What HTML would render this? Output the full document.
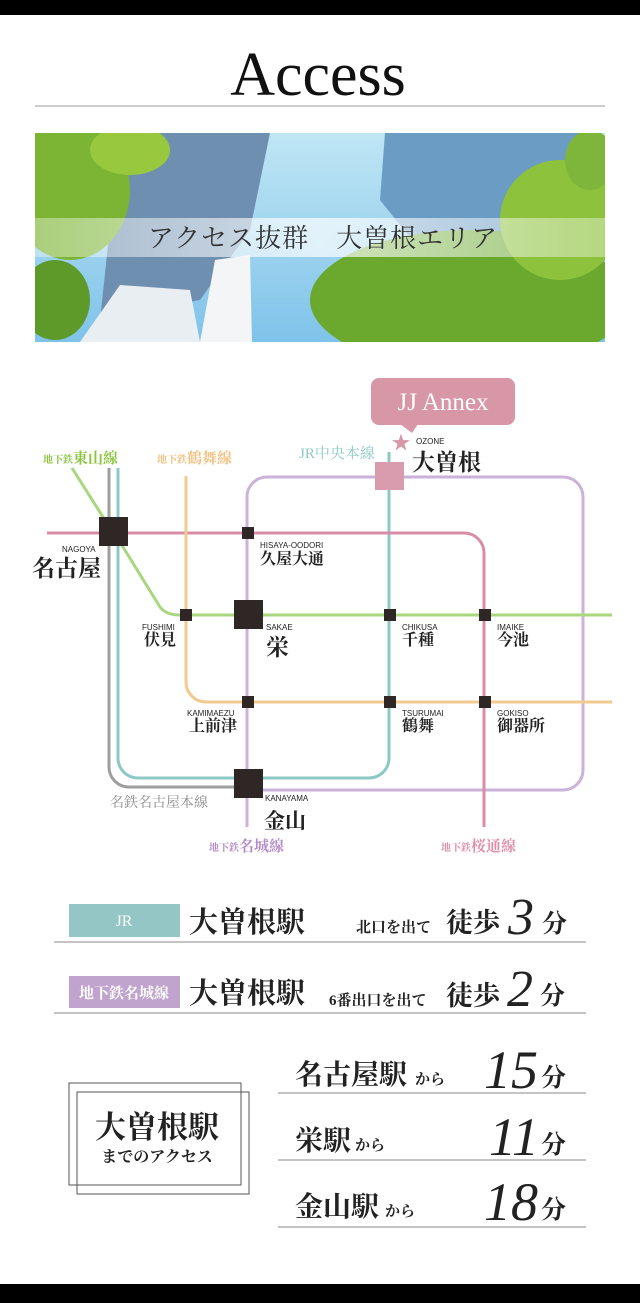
<!DOCTYPE html>
<html><head><meta charset="utf-8"><style>
html,body{margin:0;padding:0;background:#fff;}
svg{display:block;}
text{font-family:"Liberation Serif","Noto Serif CJK SC",serif;}
.s{font-family:"Liberation Sans","Noto Sans CJK JP",sans-serif;}
</style></head><body>
<svg width="640" height="1303" viewBox="0 0 640 1303" xmlns="http://www.w3.org/2000/svg">
<defs>
<linearGradient id="sky" x1="0" y1="0" x2="0" y2="1">
<stop offset="0" stop-color="#bfe6f4"/><stop offset="0.5" stop-color="#9fd4ef"/><stop offset="1" stop-color="#7fc3ea"/>
</linearGradient>
<linearGradient id="bandg" x1="0" y1="0" x2="1" y2="0">
<stop offset="0" stop-color="#fff" stop-opacity="0.35"/><stop offset="0.5" stop-color="#fff" stop-opacity="0.7"/><stop offset="1" stop-color="#fff" stop-opacity="0.35"/>
</linearGradient>
<clipPath id="pc"><rect x="35" y="133" width="570" height="209"/></clipPath>
</defs>
<rect x="0" y="0" width="640" height="15" fill="#000"/>
<rect x="0" y="1284" width="640" height="19" fill="#000"/>
<text x="318" y="95" font-size="62" text-anchor="middle" fill="#111">Access</text>
<line x1="35" y1="106" x2="605" y2="106" stroke="#bbb" stroke-width="1.5"/>

<!-- photo -->
<g clip-path="url(#pc)">
<rect x="35" y="133" width="570" height="209" fill="url(#sky)"/>
<polygon points="120,133 270,133 250,230 200,300 100,320" fill="#6f8fb0"/>
<polygon points="385,133 600,133 600,240 420,250 380,200" fill="#6b9cc4"/>
<polygon points="80,342 120,285 190,290 200,342" fill="#e9eef3"/>
<polygon points="200,342 215,260 250,255 252,342" fill="#f3f5f7"/>
<ellipse cx="70" cy="190" rx="60" ry="70" fill="#7cb534"/>
<ellipse cx="130" cy="150" rx="40" ry="25" fill="#97c83d"/>
<ellipse cx="55" cy="300" rx="35" ry="40" fill="#5d9a2a"/>
<ellipse cx="470" cy="300" rx="160" ry="70" fill="#6aa82e"/>
<ellipse cx="560" cy="220" rx="60" ry="60" fill="#8dc23c"/>
<ellipse cx="590" cy="160" rx="25" ry="30" fill="#7db63a"/>
</g>
<rect x="35" y="218" width="570" height="39" fill="url(#bandg)"/>
<text x="323" y="247" font-size="26" text-anchor="middle" fill="#333" letter-spacing="1">アクセス抜群　大曽根エリア</text>

<!-- map lines -->
<g fill="none" stroke-width="3">
<path d="M109,468 V767 a20,20 0 0 0 20,20 H248" stroke="#9e9e9e"/>
<path d="M118,468 V758 a20,20 0 0 0 20,20 H369 a20,20 0 0 0 20,-20 V452" stroke="#8cc9c6"/>
<path d="M247,827 V497 a20,20 0 0 1 20,-20 H563 a20,20 0 0 1 20,20 V770 a20,20 0 0 1 -20,20 H248" stroke="#cbb2d8"/>
<path d="M47,533 H464 a20,20 0 0 1 20,20 V827" stroke="#d98ca5"/>
<path d="M186,476 V682 a20,20 0 0 0 20,20 H612" stroke="#f2c98f"/>
<path d="M72,468 L103,517 L123,547 L160,607 Q166,615 180,615 H612" stroke="#a8d77f"/>
</g>
<!-- stations -->
<g fill="#2f2725">
<rect x="99" y="517" width="29" height="29"/>
<rect x="242" y="527" width="12" height="12"/>
<rect x="180" y="609" width="12" height="12"/>
<rect x="234" y="600" width="29" height="29"/>
<rect x="384" y="609" width="12" height="12"/>
<rect x="479" y="609" width="12" height="12"/>
<rect x="242" y="696" width="12" height="12"/>
<rect x="384" y="696" width="12" height="12"/>
<rect x="479" y="696" width="12" height="12"/>
<rect x="234" y="769" width="29" height="29"/>
</g>
<rect x="375" y="462" width="29" height="28" fill="#d99cae"/>
<!-- bubble -->
<rect x="371" y="378" width="144" height="47" rx="8" fill="#d797a7"/>
<polygon points="400,424 418,424 412,433" fill="#d797a7"/>
<text x="443" y="410" font-size="25" text-anchor="middle" fill="#fff">JJ Annex</text>
<text x="401" y="449" font-size="19" text-anchor="middle" fill="#d797a7">★</text>
<!-- line labels -->
<text x="43" y="463" font-size="10" fill="#8cc63f" font-weight="bold">地下鉄<tspan font-size="15">東山線</tspan></text>
<text x="157" y="463" font-size="10" fill="#f2c07f" font-weight="bold">地下鉄<tspan font-size="15">鶴舞線</tspan></text>
<text x="299" y="458" font-size="15" fill="#8cc9c6">JR中央本線</text>
<text x="110" y="807" font-size="14" fill="#8c8c8c">名鉄名古屋本線</text>
<text x="209" y="851" font-size="10" fill="#b58cc9" font-weight="bold">地下鉄<tspan font-size="15">名城線</tspan></text>
<text x="441" y="851" font-size="10" fill="#e08fa8" font-weight="bold">地下鉄<tspan font-size="15">桜通線</tspan></text>
<!-- station labels -->
<g fill="#222">
<text class="s" x="416" y="444" font-size="8">OZONE</text>
<text x="412" y="470" font-size="23" font-weight="bold">大曽根</text>
<text class="s" x="62" y="552" font-size="8">NAGOYA</text>
<text x="32" y="576" font-size="23" font-weight="bold">名古屋</text>
<text class="s" x="260" y="548" font-size="8">HISAYA-OODORI</text>
<text x="260" y="564" font-size="16" font-weight="bold">久屋大通</text>
<text class="s" x="142" y="630" font-size="8">FUSHIMI</text>
<text x="144" y="645" font-size="16" font-weight="bold">伏見</text>
<text class="s" x="266" y="630" font-size="8">SAKAE</text>
<text x="266" y="655" font-size="23" font-weight="bold">栄</text>
<text class="s" x="402" y="630" font-size="8">CHIKUSA</text>
<text x="402" y="645" font-size="16" font-weight="bold">千種</text>
<text class="s" x="497" y="630" font-size="8">IMAIKE</text>
<text x="497" y="645" font-size="16" font-weight="bold">今池</text>
<text class="s" x="187" y="716" font-size="8">KAMIMAEZU</text>
<text x="189" y="731" font-size="16" font-weight="bold">上前津</text>
<text class="s" x="402" y="716" font-size="8">TSURUMAI</text>
<text x="402" y="731" font-size="16" font-weight="bold">鶴舞</text>
<text class="s" x="497" y="716" font-size="8">GOKISO</text>
<text x="497" y="731" font-size="16" font-weight="bold">御器所</text>
<text class="s" x="265" y="801" font-size="8">KANAYAMA</text>
<text x="264" y="828" font-size="21" font-weight="bold">金山</text>
</g>

<!-- access rows -->
<rect x="69" y="904" width="111" height="33" fill="#93c6c5"/>
<text x="124" y="926" font-size="16" text-anchor="middle" fill="#fff">JR</text>
<text x="189" y="932" font-size="29" fill="#222" font-weight="bold">大曽根駅</text>
<text x="356" y="932" font-size="15" fill="#222" font-weight="bold">北口を出て</text>
<text x="446" y="932" font-size="27" fill="#222" font-weight="bold">徒歩</text>
<text x="508" y="934" font-size="52" fill="#222" font-style="italic">3</text>
<text x="542" y="932" font-size="25" fill="#222" font-weight="bold">分</text>
<line x1="54" y1="942" x2="586" y2="942" stroke="#888" stroke-width="1"/>

<rect x="69" y="976" width="111" height="32" fill="#c0a4cd"/>
<text x="124" y="998" font-size="15" text-anchor="middle" fill="#fff" font-weight="bold">地下鉄名城線</text>
<text x="189" y="1003" font-size="29" fill="#222" font-weight="bold">大曽根駅</text>
<text x="329" y="1005" font-size="15" fill="#222" font-weight="bold">6番出口を出て</text>
<text x="446" y="1005" font-size="27" fill="#222" font-weight="bold">徒歩</text>
<text x="507" y="1006" font-size="52" fill="#222" font-style="italic">2</text>
<text x="540" y="1004" font-size="25" fill="#222" font-weight="bold">分</text>
<line x1="54" y1="1013" x2="586" y2="1013" stroke="#888" stroke-width="1"/>

<rect x="69" y="1083" width="172" height="102" fill="none" stroke="#555" stroke-width="1"/>
<rect x="77" y="1092" width="172" height="102" fill="none" stroke="#555" stroke-width="1"/>
<text x="157" y="1138" font-size="31" text-anchor="middle" fill="#222" font-weight="bold">大曽根駅</text>
<text x="157" y="1162" font-size="16" text-anchor="middle" fill="#222" font-weight="bold">までのアクセス</text>

<g fill="#222">
<text x="295" y="1084" font-size="28" font-weight="bold">名古屋駅</text>
<text x="415" y="1084" font-size="15" font-weight="bold">から</text>
<text x="484" y="1088" font-size="54" font-style="italic">15</text>
<text x="541" y="1086" font-size="25" font-weight="bold">分</text>
<text x="295" y="1150" font-size="28" font-weight="bold">栄駅</text>
<text x="355" y="1150" font-size="15" font-weight="bold">から</text>
<text x="489" y="1155" font-size="54" font-style="italic">11</text>
<text x="541" y="1153" font-size="25" font-weight="bold">分</text>
<text x="295" y="1216" font-size="28" font-weight="bold">金山駅</text>
<text x="385" y="1216" font-size="15" font-weight="bold">から</text>
<text x="484" y="1220" font-size="54" font-style="italic">18</text>
<text x="541" y="1218" font-size="25" font-weight="bold">分</text>
</g>
<line x1="278" y1="1093" x2="586" y2="1093" stroke="#888" stroke-width="1"/>
<line x1="278" y1="1160" x2="586" y2="1160" stroke="#888" stroke-width="1"/>
<line x1="278" y1="1227" x2="586" y2="1227" stroke="#888" stroke-width="1"/>
</svg>
</body></html>
